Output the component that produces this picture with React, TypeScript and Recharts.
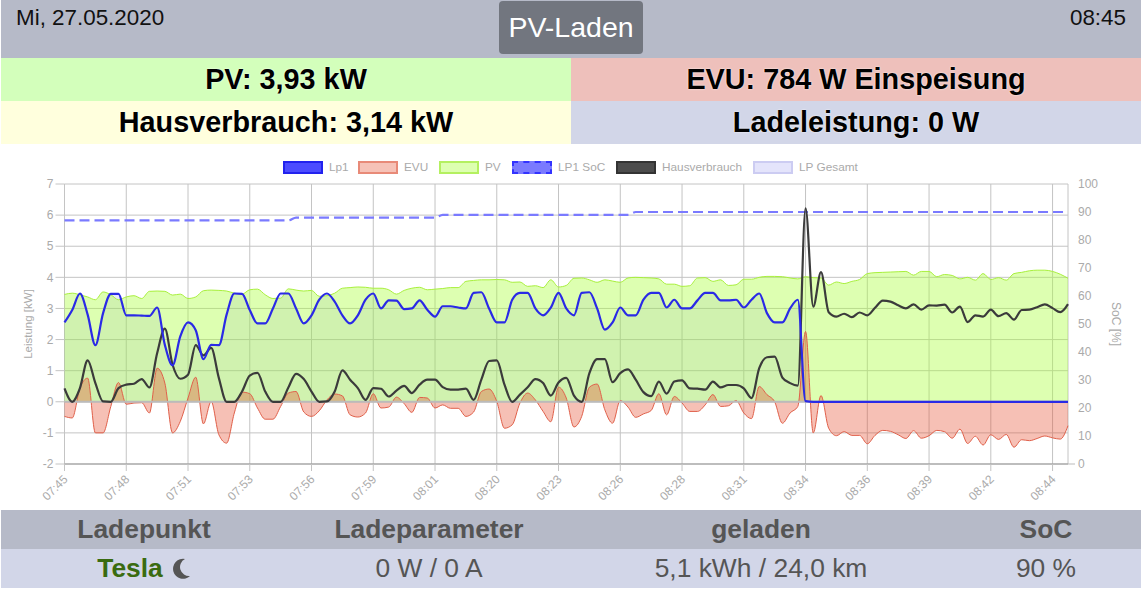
import React from 'react';
import { ComposedChart, Area, Line, XAxis, YAxis, CartesianGrid, ReferenceLine } from 'recharts';

const tickLabels = ['07:45','07:48','07:51','07:53','07:56','07:59','08:01','08:20','08:23','08:26','08:28','08:31','08:34','08:36','08:39','08:42','08:44'];

const lp1 = [2.55,2.95,3.48,2.8,1.82,2.85,3.47,3.47,2.78,2.78,2.77,2.76,3.03,1.83,1.17,2.1,2.55,2.3,1.37,1.83,1.82,2.8,3.48,3.47,2.95,2.52,2.52,3.0,3.48,3.48,3.0,2.52,2.78,3.28,3.48,3.22,2.78,2.52,2.78,3.28,3.48,3.0,
3.26,3.25,2.98,3.0,3.26,2.96,2.74,3.07,3.07,3.03,3.0,3.5,3.52,3.0,2.55,2.55,3.28,3.5,3.5,3.0,2.78,3.03,3.5,3.0,2.78,3.5,3.52,3.0,2.32,2.55,3.03,2.78,2.78,3.28,3.5,3.5,3.03,3.28,3.0,3.0,3.26,3.5,3.5,3.26,3.26,3.28,3.03,3.28,3.48,
2.85,2.55,2.55,3.0,3.28,0.02,
0,0,0,0,0,0,0,0,0,0,0,0,0,0,0,0,0,0,0,0,0,0,0,0,0,0,0,0,0,0,0,0,0,0];

const evu = [-0.47,-0.52,0.44,0.76,-1.0,-1.0,-0.15,0.62,-0.08,-0.04,-0.03,-0.36,1.08,0.6,-1.0,-0.63,0.12,0.79,-0.71,0.01,-1.06,-1.33,-0.36,0.31,0.26,-0.2,-0.56,-0.56,-0.15,0.28,0.33,-0.33,-0.47,-0.29,0.06,0.25,0.19,-0.42,-0.49,-0.36,0.26,
-0.2,-0.17,0.15,-0.06,-0.34,0.14,0.12,-0.2,-0.1,-0.21,-0.21,-0.47,-0.33,0.33,0.41,0.01,-0.85,-0.74,-0.04,0.28,0.06,-0.31,-0.64,0.47,0.12,-0.81,-0.47,0.47,0.57,-0.26,-0.69,0.04,-0.17,-0.5,-0.39,-0.28,0.26,-0.42,0.17,-0.04,-0.31,-0.31,-0.1,0.23,-0.15,-0.13,0.04,-0.36,-0.54,0.49,
0.23,0,-0.69,-0.36,-0.15,2.26,-1.0,0.2,-0.85,-1.09,-0.96,-1.08,-1.08,-1.35,-1.08,-0.92,-0.95,-1.06,-1.18,-0.93,-1.17,-1.09,-0.92,-0.96,-1.17,-0.88,-1.34,-1.11,-1.39,-1.06,-1.21,-1.05,-1.46,-1.22,-1.25,-1.18,-1.1,-1.16,-1.2,-0.77];

const pv = [3.45,3.49,3.44,3.37,3.28,3.53,3.44,3.28,3.37,3.41,3.32,3.55,3.56,3.55,3.43,3.46,3.32,3.37,3.57,3.59,3.58,3.56,3.49,3.46,3.6,3.62,3.44,3.32,3.33,3.63,3.59,3.56,3.58,3.39,3.41,3.49,3.65,3.67,3.69,3.68,3.65,3.65,
3.6,3.46,3.58,3.65,3.68,3.6,3.62,3.64,3.67,3.67,3.87,3.9,3.92,3.92,3.93,3.92,3.84,3.85,3.71,3.73,3.67,3.92,3.69,3.74,3.97,3.98,3.92,3.84,3.92,3.88,3.84,3.98,4.0,3.99,3.98,3.95,3.78,3.78,3.71,3.73,3.98,3.99,3.87,3.92,3.74,3.76,3.94,3.94,4.0,
4.03,4.03,4.02,3.98,3.95,4.02,3.99,3.98,3.75,3.85,3.8,3.87,3.93,4.12,4.15,4.16,4.17,4.18,4.19,4.07,4.19,4.19,4.02,4.09,4.06,3.95,4.0,3.91,4.12,3.93,3.99,3.91,4.12,4.16,4.21,4.23,4.23,4.19,4.1,3.97];

const soc = [87,87,87,87,87,87,87,87,87,87,87,87,87,87,87,87,87,87,87,87,87,87,87,87,87,87,87,87,87,87,88,88,88,88,88,88,88,88,88,88,88,88,88,88,88,88,88,88,88,
89,89,89,89,89,89,89,89,89,89,89,89,89,89,89,89,89,89,89,89,89,89,89,89,89,90,90,90,90,90,90,90,90,90,90,90,90,90,90,90,90,90,90,90,90,90,90,90,90,90,90,90,90,90,90,90,90,90,90,90,90,90,90,90,90,90,90,90,90,90,90,90,90,90,90,90,90,90,90,90,90,90];

const haus = [0.43,0,0.44,1.33,0.6,0.01,0,0.44,0.55,0.58,0.73,0.46,1.56,2.35,1.19,0.74,0.87,1.82,1.49,1.73,0.76,0,0,0.33,0.84,0.93,0.33,0,0,0.46,0.9,0.73,0.33,0,0.01,0.33,1.01,0.71,0.44,0.06,0.44,
0.42,0.17,0.36,0.51,0.28,0.55,0.71,0.71,0.47,0.39,0.39,0.42,0.06,0.71,1.31,1.33,0.55,0,0.23,0.47,0.73,0.6,0.2,0.62,0.77,0.2,0,0.92,1.37,1.37,0.63,0.92,1.04,0.71,0.31,0.18,0.65,0.26,0.65,0.69,0.43,0.42,0.39,0.65,0.46,0.54,0.54,0.43,0.12,1.08,
1.43,1.45,0.78,0.6,0.52,6.22,3.06,4.17,2.88,2.74,2.83,2.72,2.87,2.78,3.02,3.25,3.22,3.1,3.0,3.13,2.96,3.1,3.09,3.12,2.87,3.06,2.56,2.78,2.74,2.96,2.75,2.85,2.64,2.95,2.96,3.04,3.13,3.01,2.88,3.14];

const rows = lp1.map((v, i) => ({
  time: i % 8 === 0 ? tickLabels[i / 8] : `p${i}`,
  lp1: v,
  evu: evu[i],
  pv: pv[i],
  soc: soc[i],
  haus: haus[i],
  gesamt: v,
}));

const leftTicks = [-2, -1, 0, 1, 2, 3, 4, 5, 6, 7];
const rightTicks = [0, 10, 20, 30, 40, 50, 60, 70, 80, 90, 100];

const legendItems = [
  { name: 'Lp1', x: 283, fill: 'rgba(0,0,255,0.7)', stroke: '#2222ee', dash: false },
  { name: 'EVU', x: 358, fill: 'rgba(230,80,50,0.35)', stroke: '#e88a78', dash: false },
  { name: 'PV', x: 439, fill: 'rgba(170,255,60,0.4)', stroke: '#b4f060', dash: false },
  { name: 'LP1 SoC', x: 512, fill: 'rgba(50,50,255,0.65)', stroke: '#3333ff', dash: true },
  { name: 'Hausverbrauch', x: 616, fill: 'rgba(0,0,0,0.7)', stroke: '#333', dash: false },
  { name: 'LP Gesamt', x: 753, fill: 'rgba(120,120,235,0.2)', stroke: '#ccccf2', dash: false },
];

const FONT = '"Liberation Sans", Arial, sans-serif';

const XTick = (p: any) => {
  const label = p.payload.value as string;
  if (label.startsWith('p')) return null;
  return (
    <text x={0} y={0} transform={`translate(${p.x + 4},${p.y + 7}) rotate(-45)`} textAnchor="end" fontSize={12} fill="#aaa" fontFamily={FONT}>
      {label}
    </text>
  );
};

const RightTick = (p: any) => (
  <g>
    {p.payload.value === 0 ? <line x1={p.x - 8} x2={p.x - 1} y1={p.y} y2={p.y} stroke="#bbb" /> : null}
    <text x={p.x + 2} y={p.y + 4} textAnchor="start" fontSize={12} fill="#aaa" fontFamily={FONT}>{p.payload.value}</text>
  </g>
);

const band = (left: number, top: number, width: number, height: number, bg: string): React.CSSProperties => ({
  position: 'absolute', left, top, width, height, background: bg,
});

const Cell = ({ cx, top, h, size, bold, color, shadow, children }: any) => (
  <div style={{
    position: 'absolute', left: cx - 280, width: 560, top, height: h, lineHeight: `${h}px`, textAlign: 'center',
    fontSize: size, fontWeight: bold ? 700 : 400, color, whiteSpace: 'nowrap', textShadow: shadow,
  }}>{children}</div>
);

const halo = '0 0 2px #fff';

export default function App() {
  return (
    <div style={{ position: 'absolute', left: 0, top: 0, width: 1143, height: 591, background: '#fff', overflow: 'hidden', fontFamily: FONT }}>
      <div style={band(1, 0, 1140, 58, '#b6bac8')} />
      <div style={{ position: 'absolute', left: 16, top: 5, fontSize: 22.4, color: '#111', lineHeight: '26px' }}>Mi, 27.05.2020</div>
      <div style={{ position: 'absolute', right: 17, top: 5, fontSize: 22.4, color: '#111', lineHeight: '26px' }}>08:45</div>
      <div style={{ position: 'absolute', left: 499, top: 1, width: 144, height: 53, borderRadius: 4, background: '#72767f', color: '#fff', fontSize: 28.5, lineHeight: '53px', textAlign: 'center' }}>PV-Laden</div>

      <div style={band(1, 58, 570, 43, '#d3ffbb')} />
      <div style={band(571, 58, 570, 43, '#eec0bb')} />
      <div style={band(1, 101, 570, 43, '#ffffdd')} />
      <div style={band(571, 101, 570, 43, '#d2d6e8')} />
      <Cell cx={286} top={58} h={43} size={28.8} bold color="#000" shadow={halo}>PV: 3,93 kW</Cell>
      <Cell cx={856} top={58} h={43} size={28.8} bold color="#000" shadow={halo}>EVU: 784 W Einspeisung</Cell>
      <Cell cx={286} top={101} h={43} size={28.8} bold color="#000" shadow={halo}>Hausverbrauch: 3,14 kW</Cell>
      <Cell cx={856} top={101} h={43} size={28.8} bold color="#000" shadow={halo}>Ladeleistung: 0 W</Cell>

      <div style={{ position: 'absolute', left: 0, top: 150 }}>
        <ComposedChart width={1143} height={360} data={rows} margin={{ top: 34, right: 0, bottom: 0, left: 0 }}>
          <CartesianGrid stroke="#c4c4c4" strokeWidth={1} yAxisId="kw" />
          <XAxis dataKey="time" interval={7} tickLine={{ stroke: '#c4c4c4' }} tickSize={7} axisLine={{ stroke: '#999' }} tick={XTick} height={46} scale="point" padding={{ left: 0, right: 0 }} />
          <YAxis yAxisId="kw" domain={[-2, 7]} ticks={leftTicks} width={64.5} tick={{ fontSize: 12, fill: '#aaa', fontFamily: FONT }} tickLine={{ stroke: '#c4c4c4' }} tickSize={9} tickMargin={2} axisLine={false}
            label={{ value: 'Leistung [kW]', angle: -90, position: 'insideLeft', offset: 28, dy: 0, style: { fontSize: 11.5, fill: '#aaa', fontFamily: FONT, textAnchor: 'middle' } }} />
          <YAxis yAxisId="soc" orientation="right" domain={[0, 100]} ticks={rightTicks} width={75} tick={RightTick} tickLine={false} axisLine={false}
            label={{ value: 'SoC [%]', angle: 90, position: 'insideRight', offset: 27, dy: 0, style: { fontSize: 12, fill: '#aaa', fontFamily: FONT, textAnchor: 'middle' } }} />
          <ReferenceLine yAxisId="kw" y={0} stroke="#bbb" strokeWidth={2} />
          <Area yAxisId="kw" dataKey="gesamt" type="monotone" fill="#7878eb" fillOpacity={0.16} stroke="none" isAnimationActive={false} dot={false} activeDot={false} />
          <Area yAxisId="kw" dataKey="pv" type="monotone" fill="#aaff3c" fillOpacity={0.4} stroke="#a8f03c" strokeWidth={1} isAnimationActive={false} dot={false} activeDot={false} />
          <Area yAxisId="kw" dataKey="evu" type="monotone" fill="#e65032" fillOpacity={0.36} stroke="#e0604a" strokeWidth={1} isAnimationActive={false} dot={false} activeDot={false} />
          <Line yAxisId="soc" dataKey="soc" type="monotone" stroke="#7a7aff" strokeWidth={2.2} strokeDasharray="10 5" isAnimationActive={false} dot={false} activeDot={false} />
          <Line yAxisId="kw" dataKey="haus" type="monotone" stroke="#3b3b3b" strokeWidth={2.2} isAnimationActive={false} dot={false} activeDot={false} />
          <Line yAxisId="kw" dataKey="lp1" type="monotone" stroke="#2a2ae6" strokeWidth={2.2} isAnimationActive={false} dot={false} activeDot={false} />
        </ComposedChart>
      </div>

      {legendItems.map((it) => (
        <React.Fragment key={it.name}>
          <div style={{ position: 'absolute', left: it.x, top: 161, width: 40, height: 13, boxSizing: 'border-box', background: it.fill, border: `2px ${it.dash ? 'dashed' : 'solid'} ${it.stroke}` }} />
          <div style={{ position: 'absolute', left: it.x + 46, top: 160, fontSize: 11.8, lineHeight: '14px', color: '#aaa', whiteSpace: 'nowrap' }}>{it.name}</div>
        </React.Fragment>
      ))}

      <div style={band(1, 510, 1140, 39, '#b6bac8')} />
      <div style={band(1, 549, 1140, 39, '#d2d6e8')} />
      <Cell cx={144} top={510} h={39} size={26.4} bold color="#555">Ladepunkt</Cell>
      <Cell cx={429} top={510} h={39} size={26.4} bold color="#555">Ladeparameter</Cell>
      <Cell cx={761} top={510} h={39} size={26.4} bold color="#555">geladen</Cell>
      <Cell cx={1046} top={510} h={39} size={26.4} bold color="#555">SoC</Cell>
      <Cell cx={130} top={549} h={39} size={26.4} bold color="#3a6b10">Tesla</Cell>
      <svg style={{ position: 'absolute', left: 170, top: 558 }} width={21} height={22} viewBox="0 0 21 22">
        <path d="M15 1 A10 10 0 1 0 20 18 A9 9 0 0 1 15 1 Z" fill="#555" />
      </svg>
      <Cell cx={429} top={549} h={39} size={26.4} color="#555">0 W / 0 A</Cell>
      <Cell cx={761} top={549} h={39} size={26.4} color="#555">5,1 kWh / 24,0 km</Cell>
      <Cell cx={1046} top={549} h={39} size={26.4} color="#555">90 %</Cell>
    </div>
  );
}
